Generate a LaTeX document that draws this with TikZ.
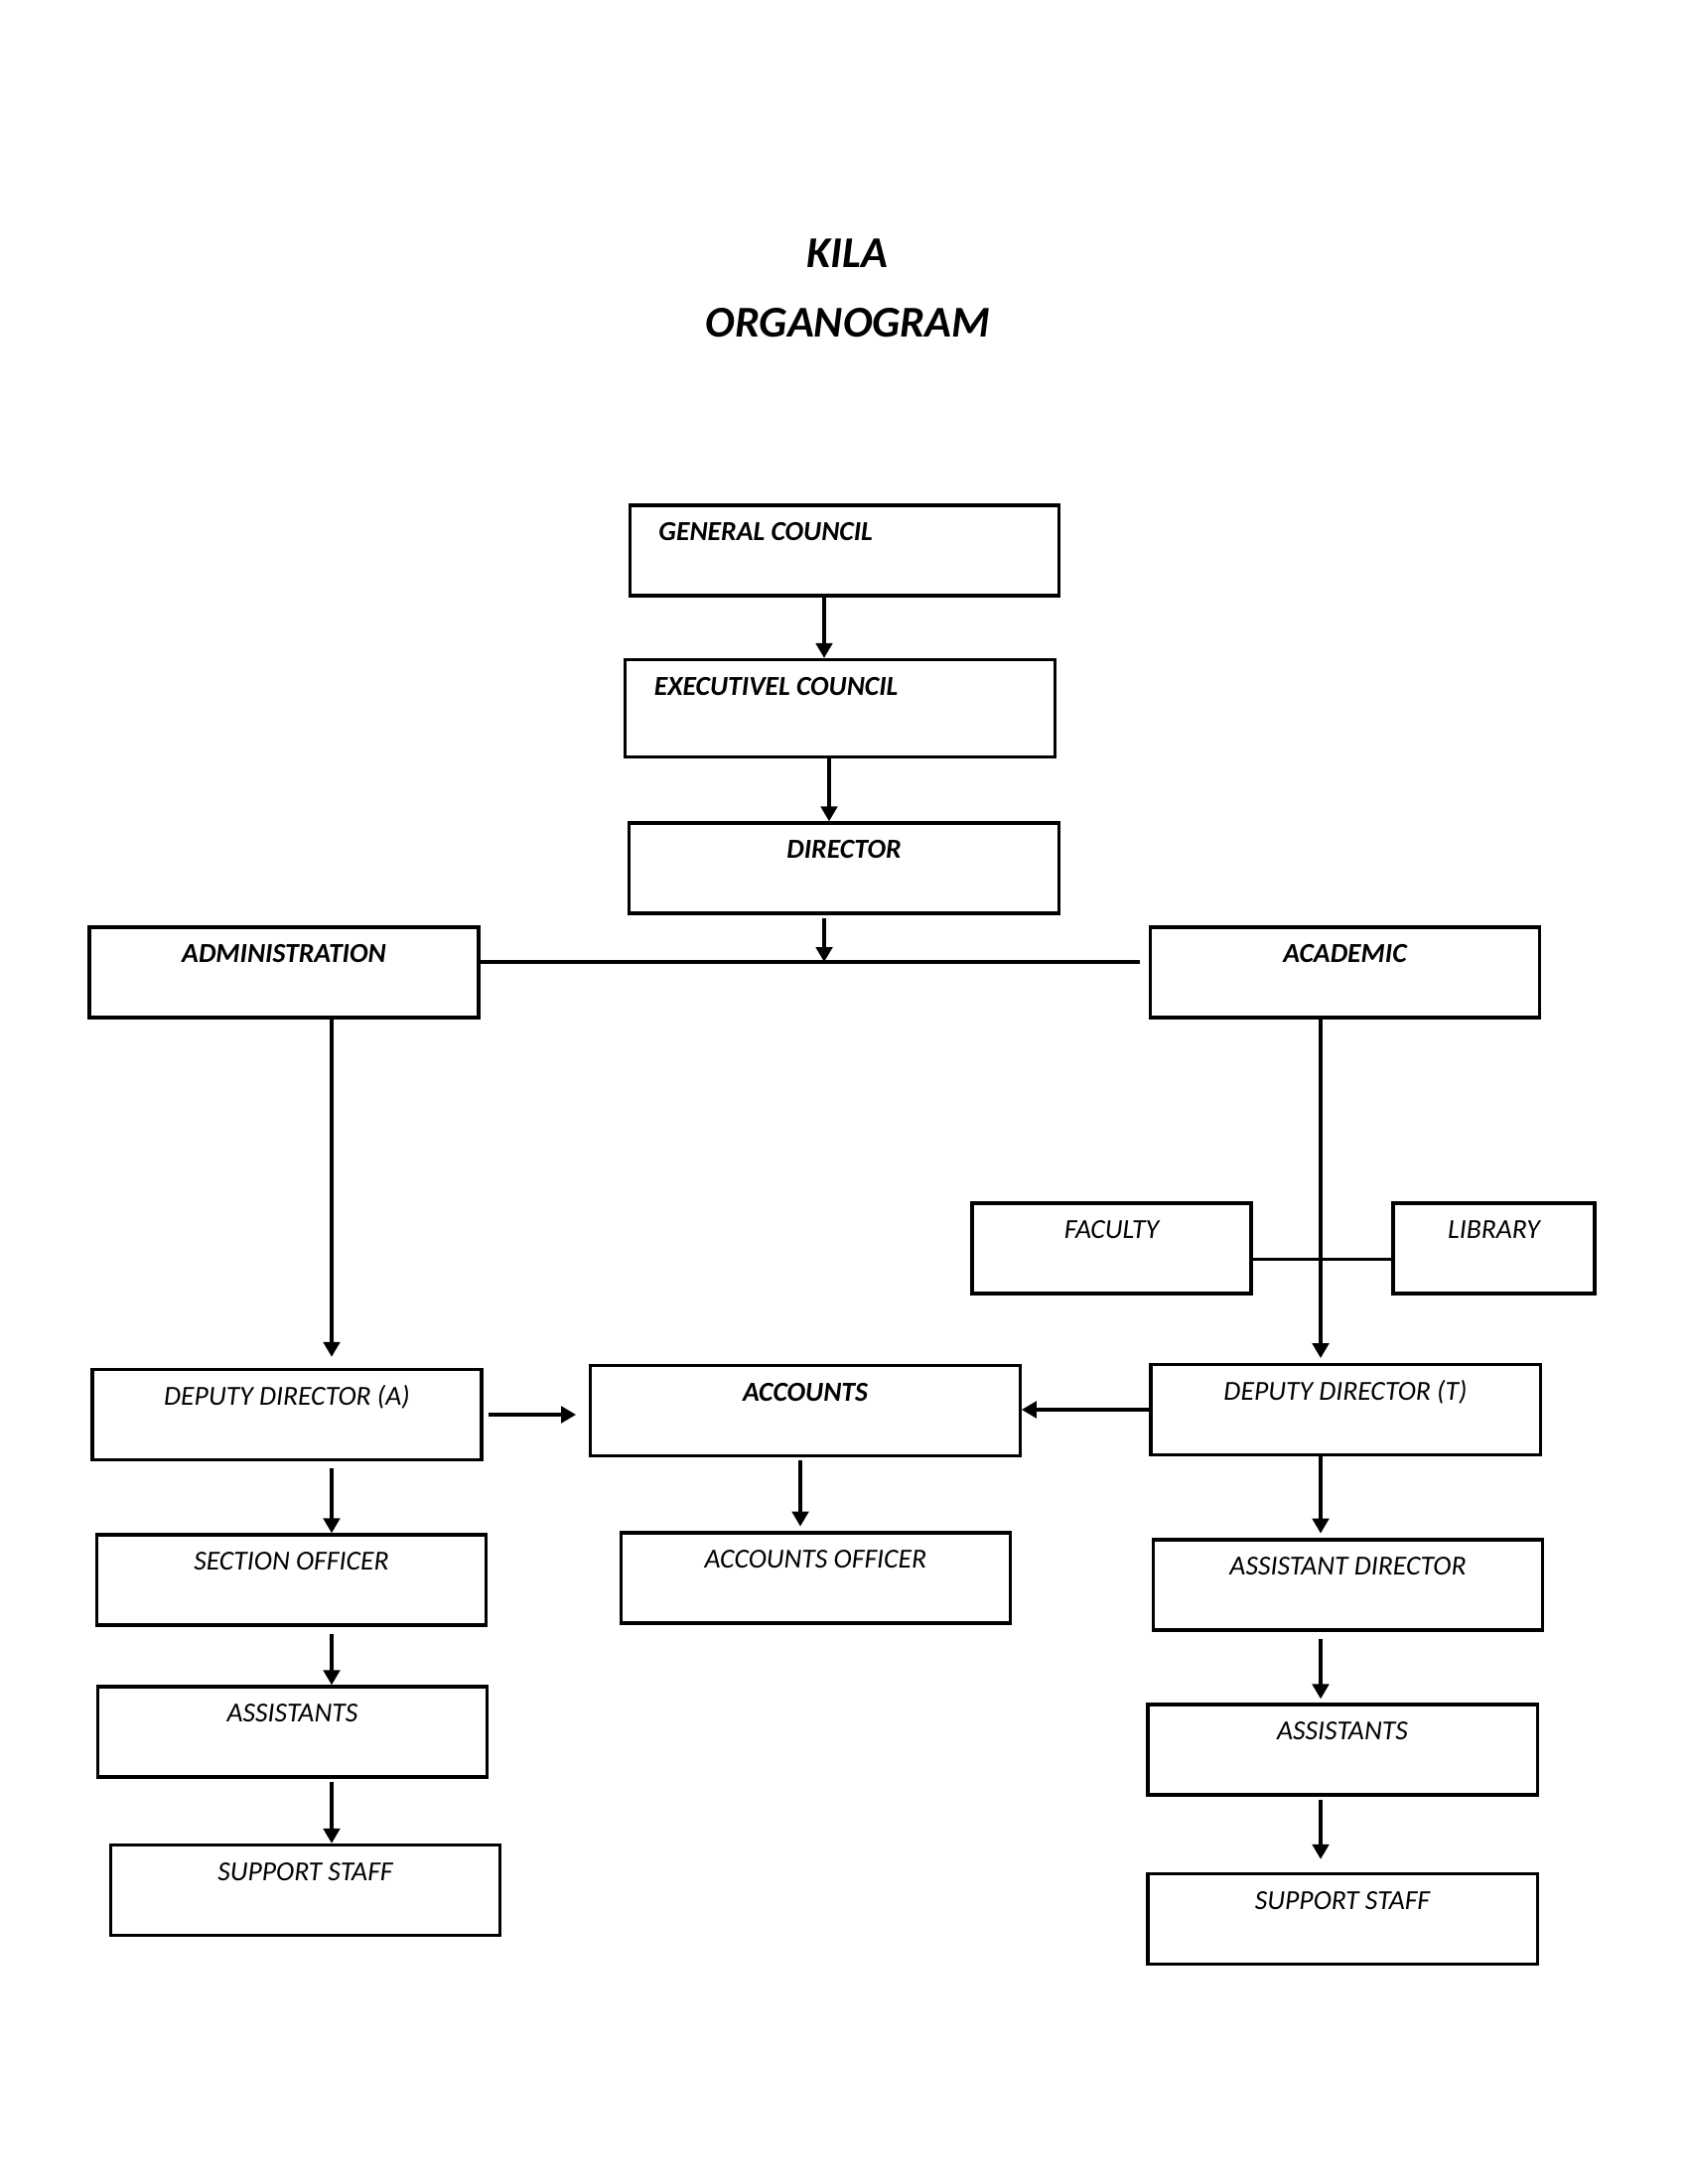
\documentclass[tikz,border=0pt]{standalone}
\usepackage{fontspec}
\setmainfont{Carlito}
\usepackage{tikz}
\usetikzlibrary{arrows.meta,positioning}

\tikzset{
  box/.style={draw, line width=1.2pt, inner sep=0pt, minimum width=4.98cm,
    text height=0.457cm, text depth=0.699cm, font=\itshape},
  head/.style={box, font=\bfseries\itshape},
  wide/.style={minimum width=5.49cm},
  lbox/.style={head, wide, text width=4.75cm, align=flush left, inner xsep=0.368cm},
  title/.style={anchor=base, font=\fontsize{16}{19}\selectfont\bfseries\itshape},
  arr/.style={line width=1.2pt, -{Triangle[length=1.9mm,width=2.1mm]}},
  plain/.style={line width=1.1pt}
}

\begin{document}
\begin{tikzpicture}[x=0.0127cm, y=-0.0127cm]
  \useasboundingbox (0,0) rectangle (1700,2200);
  % title
  \node[title] (kila) at (853,270) {KILA};
  \node[title] (organo) at (854,340) {ORGANOGRAM};
  % top of the chart
  \node[lbox] (gc) at (850.5,554.5) {GENERAL COUNCIL};
  \node[lbox, text depth=0.787cm] (ec) at (846,713.5) {EXECUTIVEL COUNCIL};
  \node[head, wide] (dir) at (850,874.5) {DIRECTOR};
  \node[head] (adm) at (286,979.5) {ADMINISTRATION};
  \node[head] (acd) at (1354.5,979.5) {ACADEMIC};
  \node[box, minimum width=3.57cm] (fac) at (1119.5,1257.5) {FACULTY};
  \node[box, minimum width=2.58cm] (lib) at (1504.5,1257.5) {LIBRARY};
  % deputies and accounts
  \node[box] (dda) at (289,1425) {DEPUTY DIRECTOR (A)};
  \node[head, wide] (acc) at (811,1421) {ACCOUNTS};
  \node[box] (ddt) at (1355,1420) {DEPUTY DIRECTOR (T)};
  % lower levels
  \node[box] (so) at (293.5,1591.5) {SECTION OFFICER};
  \node[box] (asl) at (294.5,1744.5) {ASSISTANTS};
  \node[box] (ssl) at (307.5,1904) {SUPPORT STAFF};
  \node[box] (ao) at (821.5,1589.5) {ACCOUNTS OFFICER};
  \node[box] (ad) at (1357.5,1596.5) {ASSISTANT DIRECTOR};
  \node[box] (asr) at (1352,1762.5) {ASSISTANTS};
  \node[box] (ssr) at (1352,1933) {SUPPORT STAFF};

  \coordinate (j) at (830,969);
  \coordinate (colA) at (334,0);
  \coordinate (colM) at (806,0);
  \coordinate (colT) at (1330,0);
  \coordinate (colE) at (835,0);

  \draw[arr] (gc.south -| j) -- (ec.north -| j);
  \draw[arr] (ec.south -| colE) -- (dir.north -| colE);
  \draw[arr] ([yshift=-0.04cm]dir.south -| j) -- (j);
  \draw[plain] ([xshift=-0.05cm]adm.east |- j) -- ([xshift=-0.11cm]acd.west |- j);

  \draw[arr] (adm.south -| colA) -- ([yshift=0.14cm]dda.north -| colA);
  \draw[arr] ([yshift=-0.09cm]dda.south -| colA) -- (so.north -| colA);
  \draw[arr] ([yshift=-0.09cm]so.south -| colA) -- (asl.north -| colA);
  \draw[arr] ([yshift=-0.04cm]asl.south -| colA) -- (ssl.north -| colA);

  \draw[arr] ([xshift=0.06cm]dda.east) -- ([xshift=-0.165cm]dda.east -| acc.west);
  \draw[arr] (ddt.west) -- (ddt.west -| acc.east);
  \draw[arr] ([yshift=-0.04cm]acc.south -| colM) -- ([yshift=0.06cm]ao.north -| colM);

  \draw[arr] (acd.south -| colT) -- ([yshift=0.06cm]ddt.north -| colT);
  \draw[plain] ([yshift=-0.14cm]fac.east) -- ([yshift=-0.14cm]lib.west);
  \draw[arr] (ddt.south -| colT) -- ([yshift=0.06cm]ad.north -| colT);
  \draw[arr] ([yshift=-0.09cm]ad.south -| colT) -- ([yshift=0.05cm]asr.north -| colT);
  \draw[arr] ([yshift=-0.04cm]asr.south -| colT) -- ([yshift=0.165cm]ssr.north -| colT);
\end{tikzpicture}
\end{document}
